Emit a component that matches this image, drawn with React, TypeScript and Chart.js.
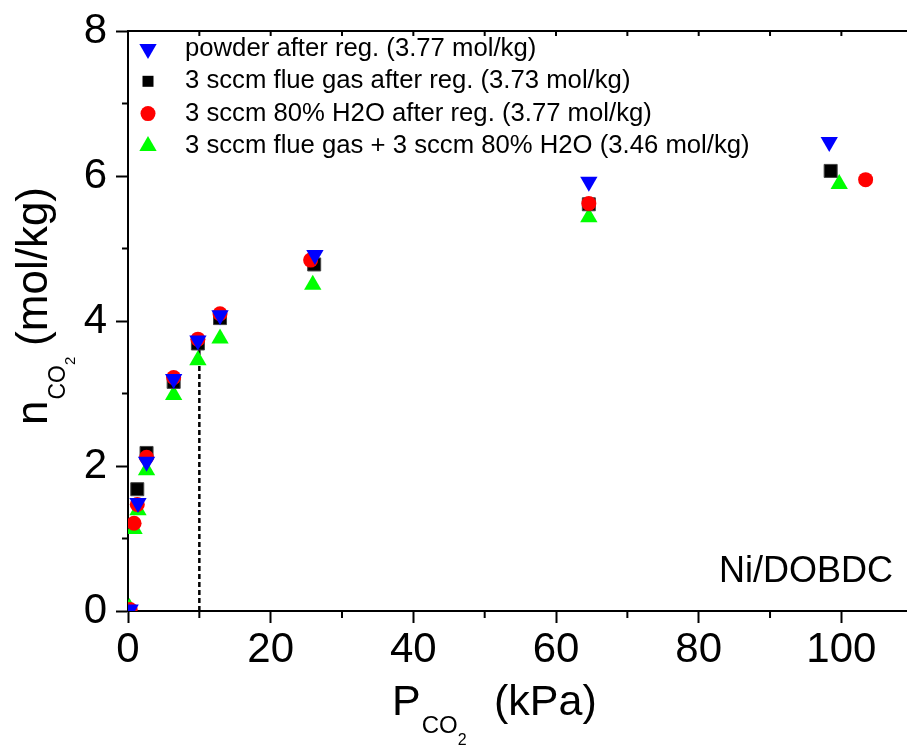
import React, { useEffect, useRef } from 'react';
import { Chart, registerables } from 'chart.js';

Chart.register(...registerables);

const FONT = "'Liberation Sans', Arial, sans-serif";

const seriesLabels = [
  'powder after reg. (3.77 mol/kg)',
  '3 sccm flue gas after reg. (3.73 mol/kg)',
  '3 sccm 80% H2O after reg. (3.77 mol/kg)',
  '3 sccm flue gas + 3 sccm 80% H2O (3.46 mol/kg)',
];
const seriesColors = ['#0000ff', '#000000', '#ff0000', '#00ff00'];

const powderX = [0.3, 1.4, 2.6, 6.4, 9.8, 12.9, 26.2, 64.6, 98.3];
const powderY = [0.02, 1.49, 2.06, 3.2, 3.73, 4.08, 4.91, 5.92, 6.47];
const flueX = [1.3, 2.6, 6.4, 9.8, 12.9, 26.1, 64.6, 98.5];
const flueY = [1.68, 2.18, 3.16, 3.69, 4.04, 4.78, 5.61, 6.07];
const h2oX = [0.3, 0.85, 1.3, 2.6, 6.4, 9.8, 12.9, 25.6, 64.6, 103.4];
const h2oY = [0.02, 1.21, 1.47, 2.12, 3.22, 3.75, 4.1, 4.84, 5.62, 5.95];
const mixX = [0.2, 0.85, 1.4, 2.6, 6.4, 9.8, 12.9, 25.9, 64.6, 99.7];
const mixY = [0.04, 1.13, 1.39, 1.94, 2.98, 3.46, 3.76, 4.5, 5.43, 5.89];
const refLineX = [10, 10];
const refLineY = [0, 3.73];

const xMajorTicks = [0, 20, 40, 60, 80, 100];
const xMinorTicks = [10, 30, 50, 70, 90];
const yMajorTicks = [0, 2, 4, 6, 8];
const yMinorTicks = [1, 3, 5, 7];

const sampleName = 'Ni/DOBDC';

const toPoints = (xs: number[], ys: number[]) => xs.map((x, i) => ({ x, y: ys[i] }));

function drawMarker(ctx: CanvasRenderingContext2D, kind: string, x: number, y: number, color: string) {
  ctx.save();
  ctx.fillStyle = color;
  ctx.beginPath();
  if (kind === 'down') {
    const r = 10;
    ctx.moveTo(x, y + r);
    ctx.lineTo(x - r * Math.sin(Math.PI / 3), y - r / 2);
    ctx.lineTo(x + r * Math.sin(Math.PI / 3), y - r / 2);
    ctx.closePath();
  } else if (kind === 'up') {
    const r = 10;
    ctx.moveTo(x, y - r);
    ctx.lineTo(x - r * Math.sin(Math.PI / 3), y + r / 2);
    ctx.lineTo(x + r * Math.sin(Math.PI / 3), y + r / 2);
    ctx.closePath();
  } else if (kind === 'square') {
    ctx.rect(x - 5.5, y - 5.5, 11, 11);
  } else {
    ctx.arc(x, y, 7.5, 0, Math.PI * 2);
  }
  ctx.fill();
  ctx.restore();
}

const decorPlugin = {
  id: 'decor',
  afterDraw(chart: any) {
    const ctx: CanvasRenderingContext2D = chart.ctx;
    const { left, right, top, bottom } = chart.chartArea;
    const xs = chart.scales.x;
    const ys = chart.scales.y;
    ctx.save();
    ctx.strokeStyle = '#000';
    ctx.lineWidth = 2;
    // top frame
    ctx.beginPath();
    ctx.moveTo(left, top);
    ctx.lineTo(right + 2, top);
    ctx.stroke();
    // top inward ticks
    [...xMajorTicks, ...xMinorTicks].forEach((v) => {
      const px = xs.getPixelForValue(v);
      if (v === 0) return;
      ctx.beginPath();
      ctx.moveTo(px, top);
      ctx.lineTo(px, top + 5);
      ctx.stroke();
    });
    // bottom minor ticks
    xMinorTicks.forEach((v) => {
      const px = xs.getPixelForValue(v);
      ctx.beginPath();
      ctx.moveTo(px, bottom);
      ctx.lineTo(px, bottom + 7);
      ctx.stroke();
    });
    // left minor ticks
    yMinorTicks.forEach((v) => {
      const py = ys.getPixelForValue(v);
      ctx.beginPath();
      ctx.moveTo(left, py);
      ctx.lineTo(left - 6, py);
      ctx.stroke();
    });

    // legend
    const kinds = ['down', 'square', 'circle', 'up'];
    ctx.font = `25.7px ${FONT}`;
    ctx.fillStyle = '#000';
    ctx.textBaseline = 'middle';
    ctx.textAlign = 'left';
    seriesLabels.forEach((lab, i) => {
      const rowY = top + 18 + i * 32.3;
      drawMarker(ctx, kinds[i], left + 20, rowY, seriesColors[i]);
      ctx.fillStyle = '#000';
      ctx.fillText(lab, left + 57, rowY);
    });

    // sample name
    ctx.font = `36px ${FONT}`;
    ctx.textAlign = 'right';
    ctx.textBaseline = 'alphabetic';
    ctx.fillText(sampleName, 893, 582);

    // x-axis title
    ctx.textAlign = 'left';
    ctx.textBaseline = 'alphabetic';
    let cx = 392;
    ctx.font = `43px ${FONT}`;
    ctx.fillText('P', cx, 715);
    cx += ctx.measureText('P').width + 1;
    ctx.font = `24px ${FONT}`;
    ctx.fillText('CO', cx, 733);
    cx += ctx.measureText('CO').width;
    ctx.font = `16px ${FONT}`;
    ctx.fillText('2', cx, 745);
    ctx.font = `43px ${FONT}`;
    ctx.fillText('(kPa)', 494, 715);

    // y-axis title (rotated)
    ctx.save();
    ctx.translate(47, 425);
    ctx.rotate(-Math.PI / 2);
    let ry = 0;
    ctx.font = `44px ${FONT}`;
    ctx.fillText('n', ry, 0);
    ry += ctx.measureText('n').width + 1;
    ctx.font = `23px ${FONT}`;
    ctx.fillText('CO', ry, 18);
    ry += ctx.measureText('CO').width;
    ctx.font = `15px ${FONT}`;
    ctx.fillText('2', ry, 28);
    ctx.font = `44px ${FONT}`;
    const w = ctx.measureText('(mol/kg)').width;
    ctx.fillText('(mol/kg)', 238 - w, 0);
    ctx.restore();

    ctx.restore();
  },
};

export default function App() {
  const ref = useRef<HTMLCanvasElement | null>(null);
  useEffect(() => {
    if (!ref.current) return;
    const chart = new Chart(ref.current, {
      type: 'scatter',
      data: {
        datasets: [
          {
            label: seriesLabels[0],
            data: toPoints(powderX, powderY),
            backgroundColor: seriesColors[0],
            borderColor: seriesColors[0],
            borderWidth: 0,
            pointStyle: 'triangle',
            rotation: 180,
            pointRadius: 10,
            order: 0,
          },
          {
            label: seriesLabels[1],
            data: toPoints(flueX, flueY),
            backgroundColor: seriesColors[1],
            borderColor: '#444',
            borderWidth: 1,
            pointStyle: 'rect',
            pointRadius: 9.2,
            order: 2,
          },
          {
            label: seriesLabels[2],
            data: toPoints(h2oX, h2oY),
            backgroundColor: seriesColors[2],
            borderColor: seriesColors[2],
            borderWidth: 0,
            pointStyle: 'circle',
            pointRadius: 7.5,
            order: 1,
          },
          {
            label: seriesLabels[3],
            data: toPoints(mixX, mixY),
            backgroundColor: seriesColors[3],
            borderColor: seriesColors[3],
            borderWidth: 0,
            pointStyle: 'triangle',
            pointRadius: 10,
            order: 3,
          },
          {
            type: 'line',
            label: 'ref',
            data: toPoints(refLineX, refLineY),
            borderColor: '#000',
            borderWidth: 2.5,
            borderDash: [5, 3],
            pointRadius: 0,
            showLine: true,
            fill: false,
            order: 4,
          } as any,
        ],
      },
      options: {
        responsive: false,
        animation: false,
        devicePixelRatio: 1,
        layout: { autoPadding: false, padding: { top: 31, right: 0, left: 0, bottom: 0 } },
        plugins: { legend: { display: false }, tooltip: { enabled: false } },
        scales: {
          x: {
            type: 'linear',
            min: 0,
            max: 109.2,
            afterBuildTicks: (s: any) => {
              s.ticks = xMajorTicks.map((v) => ({ value: v }));
            },
            afterFit: (s: any) => {
              s.height = 136;
              s.paddingRight = 0;
              s.paddingLeft = 0;
            },
            ticks: {
              font: { size: 42, family: FONT },
              color: '#000',
              padding: 2,
              maxRotation: 0,
              autoSkip: false,
            },
            grid: {
              display: true,
              drawOnChartArea: false,
              drawTicks: true,
              tickLength: 12,
              tickWidth: 2,
              tickColor: '#000',
            },
            border: { display: true, color: '#000', width: 2 },
          },
          y: {
            type: 'linear',
            min: 0,
            max: 8,
            afterBuildTicks: (s: any) => {
              s.ticks = yMajorTicks.map((v) => ({ value: v }));
            },
            afterFit: (s: any) => {
              s.width = 128;
              s.paddingTop = 0;
              s.paddingBottom = 0;
            },
            ticks: {
              font: { size: 42, family: FONT },
              color: '#000',
              padding: 9,
              autoSkip: false,
            },
            grid: {
              display: true,
              drawOnChartArea: false,
              drawTicks: true,
              tickLength: 12,
              tickWidth: 2,
              tickColor: '#000',
            },
            border: { display: true, color: '#000', width: 2 },
          },
        },
      },
      plugins: [decorPlugin],
    });
    return () => chart.destroy();
  }, []);
  return (
    <div style={{ position: 'absolute', left: 0, top: 0, width: 907, height: 747, background: '#fff' }}>
      <canvas ref={ref} width={907} height={747} style={{ display: 'block' }} />
    </div>
  );
}
